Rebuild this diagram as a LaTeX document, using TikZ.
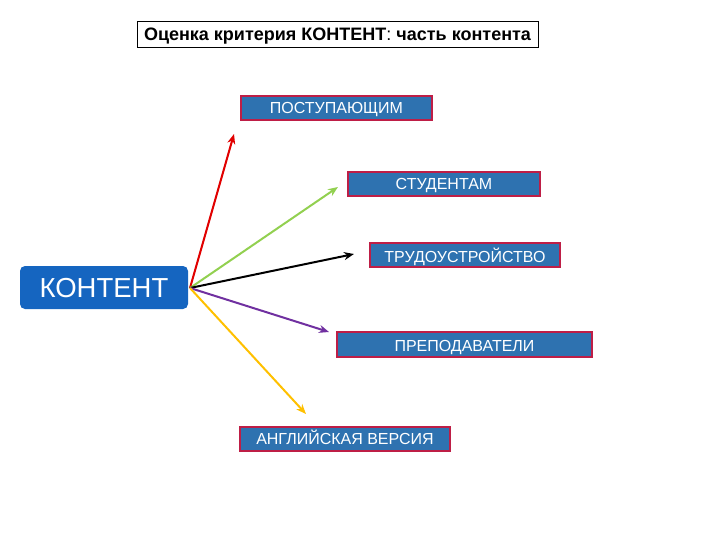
\documentclass[tikz,border=0pt]{standalone}
\usepackage{fontspec}
\setmainfont{Liberation Sans}
\usetikzlibrary{arrows.meta}
\definecolor{boxblue}{RGB}{46,114,176}
\definecolor{boxedge}{RGB}{190,30,70}
\definecolor{kblue}{RGB}{21,101,192}
\definecolor{cred}{RGB}{225,0,0}
\definecolor{cgreen}{RGB}{146,208,80}
\definecolor{cpurple}{RGB}{112,48,160}
\definecolor{cyellow}{RGB}{255,192,0}
\tikzset{
  px/.style={x=1pt,y=-1pt},
  tbox/.style={draw=boxedge,line width=1.2pt,fill=boxblue,text=white,font=\fontsize{16}{16}\selectfont,inner sep=0pt,minimum height=24pt,text height=11.5pt,text depth=0pt},
  kbox/.style={fill=kblue,rounded corners=5pt,text=white,font=\fontsize{27.5}{27.5}\selectfont,inner sep=0pt,minimum width=168pt,minimum height=43pt,text height=19.7pt,text depth=0pt},
  titlebox/.style={draw=black,line width=0.8pt,fill=white,font=\bfseries\fontsize{18}{18}\selectfont,inner sep=0pt,minimum width=401pt,minimum height=26pt,text height=13pt,text depth=0pt},
  conn/.style={line width=2pt,-{Stealth[length=10pt,width=8pt]}}
}
\begin{document}
\begin{tikzpicture}[px]
\useasboundingbox (0,0) rectangle (720,540);
\node[titlebox] (title) at (337.5,34) {Оценка критерия КОНТЕНТ{\mdseries:} часть контента};
\node[tbox,minimum width=191pt] (p1) at (336.5,108) {ПОСТУПАЮЩИМ};
\node[tbox,minimum width=192pt] (p2) at (444,184) {СТУДЕНТАМ};
\node[tbox,minimum width=190pt] (p3) at (465,255) {\raisebox{-1.5pt}{ТРУДОУСТРОЙСТВО}};
\node[tbox,minimum width=255pt,minimum height=25pt] (p4) at (464.5,344.5) {\raisebox{-1pt}{ПРЕПОДАВАТЕЛИ}};
\node[tbox,minimum width=210pt] (p5) at (345,439) {АНГЛИЙСКАЯ ВЕРСИЯ};
\node[kbox] (k) at (104,287.5) {КОНТЕНТ};
\coordinate (o) at (190,288);
\coordinate (t1) at (234,134);
\coordinate (t2) at (338,187);
\coordinate (t3) at (354,254);
\coordinate (t4) at (329,332);
\coordinate (t5) at (306,414);
\draw[conn,cred] (o) -- (t1);
\draw[conn,cgreen] (o) -- (t2);
\draw[conn,black] (o) -- (t3);
\draw[conn,cpurple] (o) -- (t4);
\draw[conn,cyellow] (o) -- (t5);
\end{tikzpicture}
\end{document}
